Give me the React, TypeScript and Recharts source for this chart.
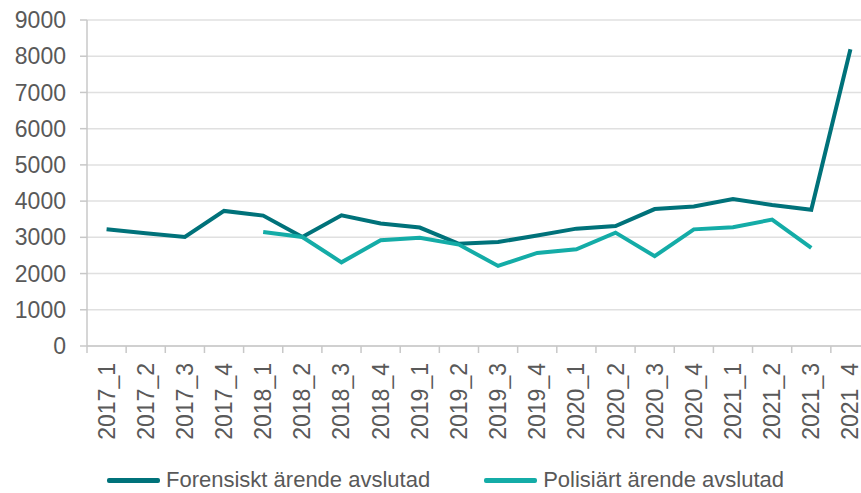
import React from "react"
import { LineChart, Line, XAxis, YAxis, CartesianGrid, Legend } from "recharts"

const quarters = [
  "2017_1", "2017_2", "2017_3", "2017_4",
  "2018_1", "2018_2", "2018_3", "2018_4",
  "2019_1", "2019_2", "2019_3", "2019_4",
  "2020_1", "2020_2", "2020_3", "2020_4",
  "2021_1", "2021_2", "2021_3", "2021_4",
]

const forensiskt = [
  3220, 3110, 3010, 3730, 3600, 3010, 3610, 3380, 3270, 2820,
  2870, 3050, 3240, 3310, 3780, 3850, 4060, 3890, 3760, 8190,
]

const polisiart: (number | null)[] = [
  null, null, null, null, 3150, 3010, 2310, 2920, 2990, 2800,
  2210, 2570, 2670, 3130, 2480, 3220, 3280, 3490, 2710, null,
]

const yTicks = [0, 1000, 2000, 3000, 4000, 5000, 6000, 7000, 8000, 9000]

const data = quarters.map((q, i) => ({
  name: q,
  forensiskt: forensiskt[i],
  polisiart: polisiart[i],
}))

const DARK = "#00727a"
const LIGHT = "#14aca7"
const TEXT = "#595959"
const FONT = "'Liberation Sans', Arial, sans-serif"

// chart geometry
const CHART_W = 872
const CHART_H = 493
const Y_AXIS_W = 87
const RIGHT = 2
const STEP = (CHART_W - Y_AXIS_W - RIGHT) / quarters.length

// category ticks sit on the boundaries, labels sit in the middle
const XTick = (props: any) => {
  const { x, y, payload, index } = props
  const half = STEP / 2
  return (
    <g transform={`translate(${x},${y})`}>
      <line x1={-half} y1={0} x2={-half} y2={7} stroke="#c8c8c8" strokeWidth={1.5} />
      {index === quarters.length - 1 && (
        <line x1={half} y1={0} x2={half} y2={7} stroke="#c8c8c8" strokeWidth={1.5} />
      )}
      <text
        transform="rotate(-90)"
        x={-17}
        y={0}
        textAnchor="end"
        dominantBaseline="central"
        fill={TEXT}
        fontSize={23}
        fontFamily={FONT}
      >
        {payload.value}
      </text>
    </g>
  )
}

const LegendContent = () => {
  const items = [
    { label: "Forensiskt ärende avslutad", color: DARK },
    { label: "Polisiärt ärende avslutad", color: LIGHT },
  ]
  return (
    <div style={{ display: "flex", alignItems: "center", paddingLeft: 107, paddingTop: 16, fontFamily: FONT }}>
      {items.map((it, i) => (
        <div key={it.label} style={{ display: "flex", alignItems: "center", marginRight: i === 0 ? 54 : 0 }}>
          <div style={{ width: 53, height: 5, borderRadius: 2, background: it.color }} />
          <span style={{ marginLeft: 6, fontSize: 22, lineHeight: "22px", color: TEXT, whiteSpace: "nowrap" }}>
            {it.label}
          </span>
        </div>
      ))}
    </div>
  )
}

export default function App() {
  return (
    <div
      style={{
        position: "absolute",
        left: 0,
        top: 0,
        width: 861,
        height: 493,
        overflow: "hidden",
        background: "#fff",
      }}
    >
      <LineChart
        width={CHART_W}
        height={CHART_H}
        data={data}
        margin={{ top: 20, right: RIGHT, left: 0, bottom: 0 }}
      >
        <CartesianGrid vertical={false} stroke="#e0e0e0" strokeWidth={1.5} />
        <XAxis
          dataKey="name"
          interval={0}
          height={107}
          padding={{ left: STEP / 2, right: STEP / 2 }}
          tickSize={0}
          tickMargin={0}
          tickLine={false}
          axisLine={{ stroke: "#c8c8c8", strokeWidth: 1.5 }}
          tick={<XTick />}
        />
        <YAxis
          width={Y_AXIS_W}
          domain={[0, 9000]}
          ticks={yTicks}
          interval={0}
          tickSize={7}
          tickMargin={14}
          tickLine={{ stroke: "#c8c8c8", strokeWidth: 1.5 }}
          axisLine={{ stroke: "#c8c8c8", strokeWidth: 1.5 }}
          tick={{ fill: TEXT, fontSize: 23, fontFamily: FONT }}
        />
        <Legend verticalAlign="bottom" height={40} wrapperStyle={{ left: 0, width: CHART_W }} content={<LegendContent />} />
        <Line
          type="linear"
          dataKey="forensiskt"
          stroke={DARK}
          strokeWidth={4}
          dot={false}
          isAnimationActive={false}
          name="Forensiskt ärende avslutad"
        />
        <Line
          type="linear"
          dataKey="polisiart"
          stroke={LIGHT}
          strokeWidth={4}
          dot={false}
          isAnimationActive={false}
          name="Polisiärt ärende avslutad"
        />
      </LineChart>
    </div>
  )
}
